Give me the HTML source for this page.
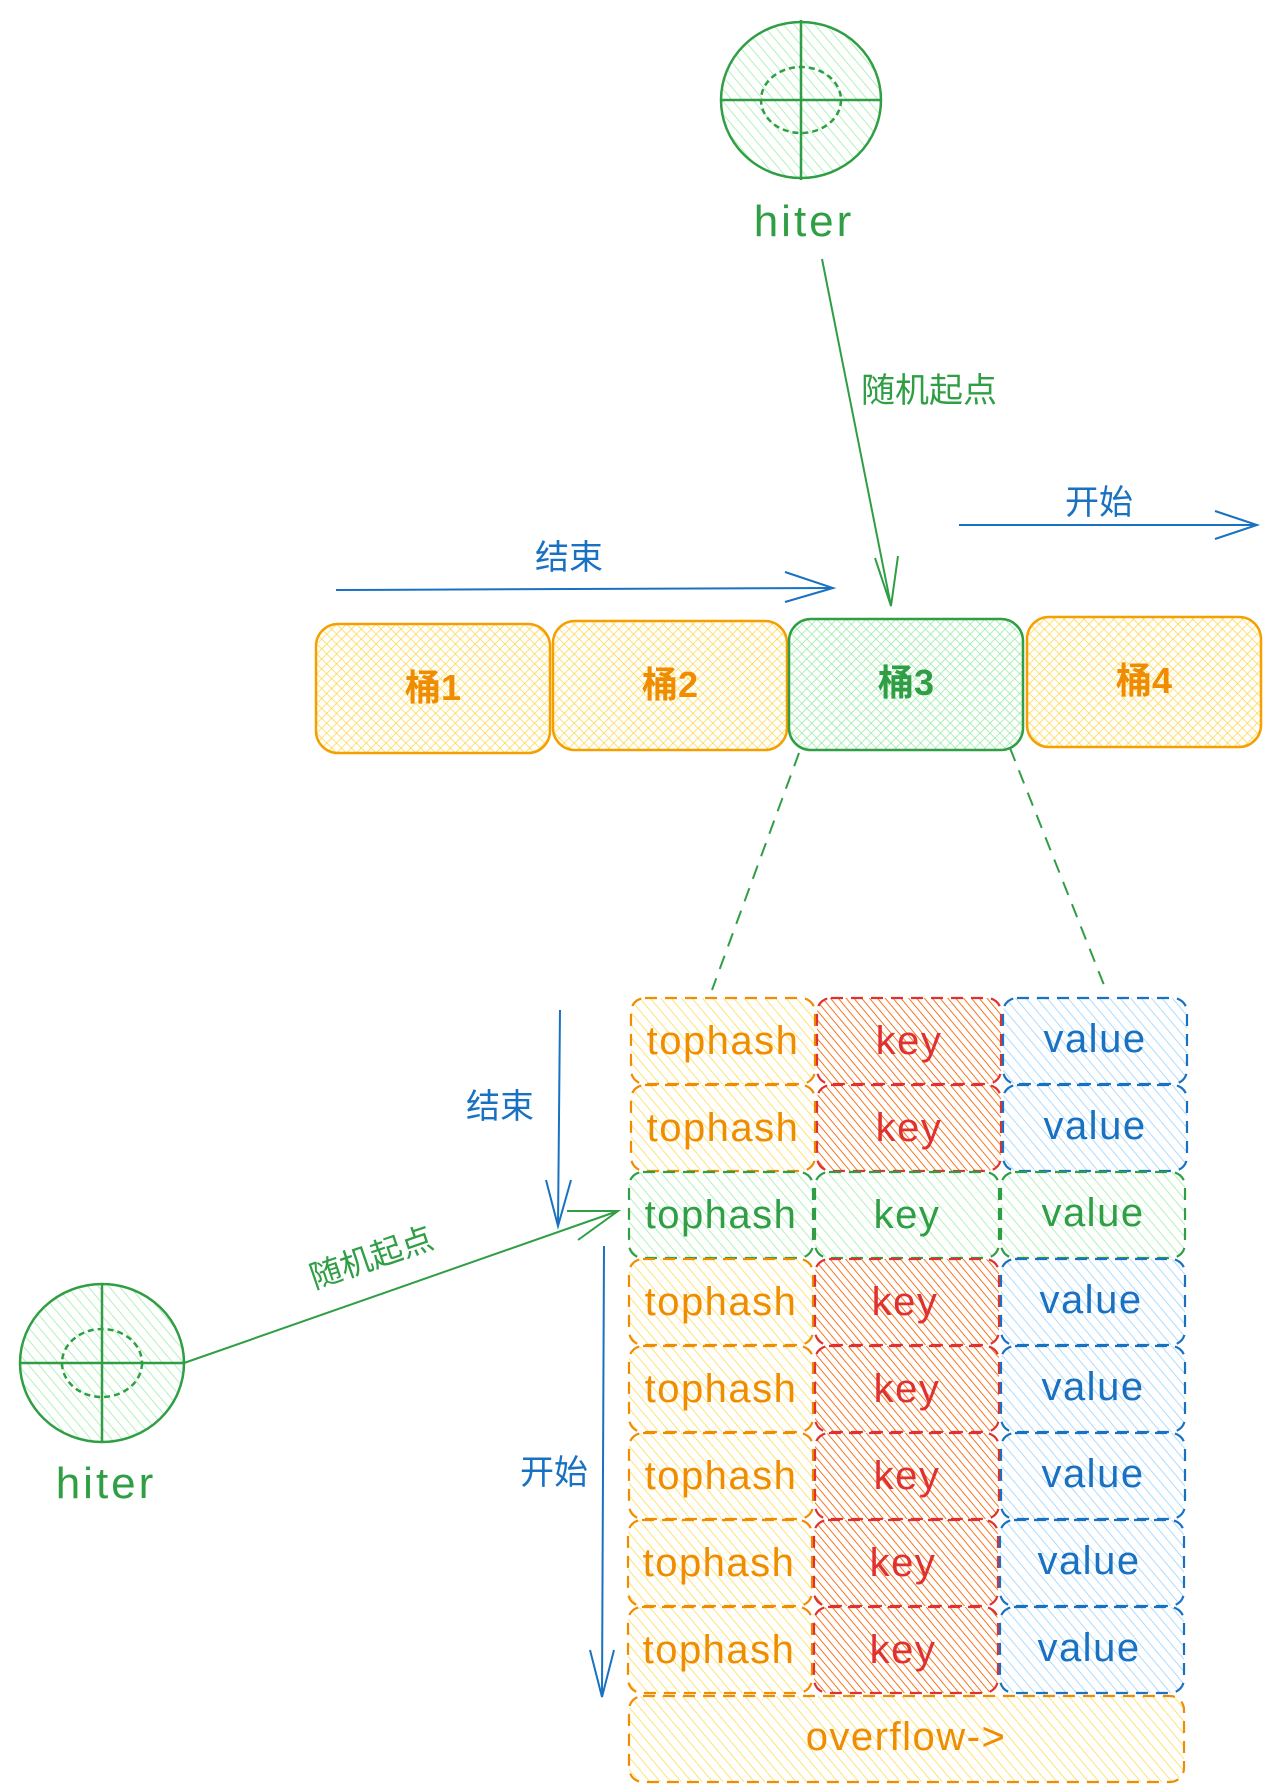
<!DOCTYPE html>
<html><head><meta charset="utf-8"><style>
html,body{margin:0;padding:0;background:#fff;}
svg{display:block;}
text{font-family:"Liberation Sans","Noto Sans CJK SC",sans-serif;}
</style></head><body>
<svg width="1274" height="1792" viewBox="0 0 1274 1792" xmlns="http://www.w3.org/2000/svg">
<defs>
<pattern id="hy" width="7" height="7" patternUnits="userSpaceOnUse" patternTransform="rotate(45)"><line x1="0" y1="0" x2="0" y2="7" stroke="#ffd43b" stroke-width="1.4"/><line x1="0" y1="0" x2="7" y2="0" stroke="#ffd43b" stroke-width="1.4"/></pattern>
<pattern id="hg" width="7" height="7" patternUnits="userSpaceOnUse" patternTransform="rotate(45)"><line x1="0" y1="0" x2="0" y2="7" stroke="#8ce99a" stroke-width="1.4"/><line x1="0" y1="0" x2="7" y2="0" stroke="#8ce99a" stroke-width="1.4"/></pattern>
<pattern id="sy" width="8" height="8" patternUnits="userSpaceOnUse" patternTransform="rotate(-40)"><line x1="0" y1="0" x2="0" y2="8" stroke="#ffe066" stroke-width="1.8"/></pattern>
<pattern id="so" width="6" height="6" patternUnits="userSpaceOnUse" patternTransform="rotate(-40)"><line x1="0" y1="0" x2="0" y2="6" stroke="#f76707" stroke-width="1.8"/></pattern>
<pattern id="sb" width="8" height="8" patternUnits="userSpaceOnUse" patternTransform="rotate(-40)"><line x1="0" y1="0" x2="0" y2="8" stroke="#a5d8ff" stroke-width="1.8"/></pattern>
<pattern id="sg" width="8" height="8" patternUnits="userSpaceOnUse" patternTransform="rotate(-40)"><line x1="0" y1="0" x2="0" y2="8" stroke="#b2f2bb" stroke-width="2"/></pattern>
</defs>

<g stroke="#2f9e44" stroke-width="2.5" fill="none">
<ellipse cx="801" cy="100" rx="80" ry="78" fill="url(#sg)"/>
<ellipse cx="801" cy="100" rx="40" ry="33" stroke-dasharray="6 4"/>
<line x1="721" y1="100" x2="882" y2="100"/>
<line x1="801" y1="20" x2="801" y2="180"/>
</g>
<text x="804" y="236" font-size="44" letter-spacing="3" fill="#2f9e44" text-anchor="middle">hiter</text>

<g stroke="#2f9e44" stroke-width="2" fill="none">
<line x1="822" y1="259" x2="891" y2="606"/>
<polyline points="875,558 891,606 898,556"/>
</g>
<text x="861" y="402" font-size="34" fill="#2f9e44">随机起点</text>

<g stroke="#1971c2" stroke-width="2" fill="none">
<line x1="959" y1="525" x2="1257" y2="525"/>
<polyline points="1215,511 1257,525 1215,539"/>
<line x1="336" y1="590" x2="833" y2="588"/>
<polyline points="785,572 833,588 785,602"/>
</g>
<text x="1099" y="514" font-size="34" fill="#1971c2" text-anchor="middle">开始</text>
<text x="569" y="569" font-size="34" fill="#1971c2" text-anchor="middle">结束</text>

<g stroke-width="2.5">
<rect x="316" y="624" width="234" height="129" rx="22" fill="url(#hy)" stroke="#f59f00"/>
<rect x="553" y="621" width="234" height="129" rx="22" fill="url(#hy)" stroke="#f59f00"/>
<rect x="789" y="619" width="234" height="131" rx="22" fill="url(#hg)" stroke="#2f9e44"/>
<rect x="1027" y="617" width="234" height="130" rx="22" fill="url(#hy)" stroke="#f59f00"/>
</g>
<g font-size="36" font-weight="bold" text-anchor="middle">
<text x="433" y="700" fill="#f08c00">桶1</text>
<text x="670" y="697" fill="#f08c00">桶2</text>
<text x="906" y="695" fill="#2f9e44">桶3</text>
<text x="1144" y="693" fill="#f08c00">桶4</text>
</g>

<g stroke="#2f9e44" stroke-width="2" stroke-dasharray="14 10">
<line x1="799" y1="753" x2="712" y2="990"/>
<line x1="1010" y1="748" x2="1104" y2="985"/>
</g>

<g stroke-width="2.2" stroke-dasharray="12 8">
<rect x="631" y="998" width="184" height="86" rx="14" fill="url(#sy)" stroke="#f08c00"/><rect x="817" y="998" width="184" height="86" rx="14" fill="url(#so)" stroke="#e03131"/><rect x="1003" y="998" width="184" height="86" rx="14" fill="url(#sb)" stroke="#1971c2"/>
<rect x="631" y="1085" width="184" height="86" rx="14" fill="url(#sy)" stroke="#f08c00"/><rect x="817" y="1085" width="184" height="86" rx="14" fill="url(#so)" stroke="#e03131"/><rect x="1003" y="1085" width="184" height="86" rx="14" fill="url(#sb)" stroke="#1971c2"/>
<rect x="629" y="1172" width="184" height="86" rx="14" fill="url(#sg)" stroke="#2f9e44"/><rect x="815" y="1172" width="184" height="86" rx="14" fill="url(#sg)" stroke="#2f9e44"/><rect x="1001" y="1172" width="184" height="86" rx="14" fill="url(#sg)" stroke="#2f9e44"/>
<rect x="629" y="1259" width="184" height="86" rx="14" fill="url(#sy)" stroke="#f08c00"/><rect x="815" y="1259" width="184" height="86" rx="14" fill="url(#so)" stroke="#e03131"/><rect x="1001" y="1259" width="184" height="86" rx="14" fill="url(#sb)" stroke="#1971c2"/>
<rect x="629" y="1346" width="184" height="86" rx="14" fill="url(#sy)" stroke="#f08c00"/><rect x="815" y="1346" width="184" height="86" rx="14" fill="url(#so)" stroke="#e03131"/><rect x="1001" y="1346" width="184" height="86" rx="14" fill="url(#sb)" stroke="#1971c2"/>
<rect x="629" y="1433" width="184" height="86" rx="14" fill="url(#sy)" stroke="#f08c00"/><rect x="815" y="1433" width="184" height="86" rx="14" fill="url(#so)" stroke="#e03131"/><rect x="1001" y="1433" width="184" height="86" rx="14" fill="url(#sb)" stroke="#1971c2"/>
<rect x="628" y="1520" width="184" height="86" rx="14" fill="url(#sy)" stroke="#f08c00"/><rect x="814" y="1520" width="184" height="86" rx="14" fill="url(#so)" stroke="#e03131"/><rect x="1000" y="1520" width="184" height="86" rx="14" fill="url(#sb)" stroke="#1971c2"/>
<rect x="628" y="1607" width="184" height="86" rx="14" fill="url(#sy)" stroke="#f08c00"/><rect x="814" y="1607" width="184" height="86" rx="14" fill="url(#so)" stroke="#e03131"/><rect x="1000" y="1607" width="184" height="86" rx="14" fill="url(#sb)" stroke="#1971c2"/>
<rect x="629" y="1696" width="555" height="86" rx="14" fill="url(#sy)" stroke="#f08c00"/>
</g>
<g font-size="40" letter-spacing="1.5" text-anchor="middle">
<text x="723" y="1054" fill="#f08c00">tophash</text><text x="909" y="1054" fill="#e03131">key</text><text x="1095" y="1052" fill="#1971c2">value</text>
<text x="723" y="1141" fill="#f08c00">tophash</text><text x="909" y="1141" fill="#e03131">key</text><text x="1095" y="1139" fill="#1971c2">value</text>
<text x="721" y="1228" fill="#2f9e44">tophash</text><text x="907" y="1228" fill="#2f9e44">key</text><text x="1093" y="1226" fill="#2f9e44">value</text>
<text x="721" y="1315" fill="#f08c00">tophash</text><text x="905" y="1315" fill="#e03131">key</text><text x="1091" y="1313" fill="#1971c2">value</text>
<text x="721" y="1402" fill="#f08c00">tophash</text><text x="907" y="1402" fill="#e03131">key</text><text x="1093" y="1400" fill="#1971c2">value</text>
<text x="721" y="1489" fill="#f08c00">tophash</text><text x="907" y="1489" fill="#e03131">key</text><text x="1093" y="1487" fill="#1971c2">value</text>
<text x="719" y="1576" fill="#f08c00">tophash</text><text x="903" y="1576" fill="#e03131">key</text><text x="1089" y="1574" fill="#1971c2">value</text>
<text x="719" y="1663" fill="#f08c00">tophash</text><text x="903" y="1663" fill="#e03131">key</text><text x="1089" y="1661" fill="#1971c2">value</text>
<text x="906" y="1750" fill="#f08c00">overflow-&gt;</text>
</g>

<g stroke="#2f9e44" stroke-width="2.5" fill="none">
<ellipse cx="102" cy="1363" rx="82" ry="79" fill="url(#sg)"/>
<ellipse cx="102" cy="1363" rx="40" ry="34" stroke-dasharray="6 4"/>
<line x1="20" y1="1363" x2="184" y2="1363"/>
<line x1="102" y1="1284" x2="102" y2="1442"/>
</g>
<text x="106" y="1498" font-size="44" letter-spacing="3" fill="#2f9e44" text-anchor="middle">hiter</text>
<g stroke="#2f9e44" stroke-width="2" fill="none">
<line x1="184" y1="1363" x2="618" y2="1211"/>
<polyline points="567,1211 618,1211 578,1240"/>
</g>
<text x="375" y="1268" font-size="32" fill="#2f9e44" text-anchor="middle" transform="rotate(-19 375 1268)">随机起点</text>

<g stroke="#1971c2" stroke-width="2" fill="none">
<line x1="560" y1="1010" x2="558" y2="1226"/>
<polyline points="546,1180 558,1226 571,1180"/>
<line x1="604" y1="1246" x2="602" y2="1697"/>
<polyline points="590,1650 602,1697 614,1650"/>
</g>
<text x="500" y="1118" font-size="34" fill="#1971c2" text-anchor="middle">结束</text>
<text x="554" y="1484" font-size="34" fill="#1971c2" text-anchor="middle">开始</text>
</svg>
</body></html>
